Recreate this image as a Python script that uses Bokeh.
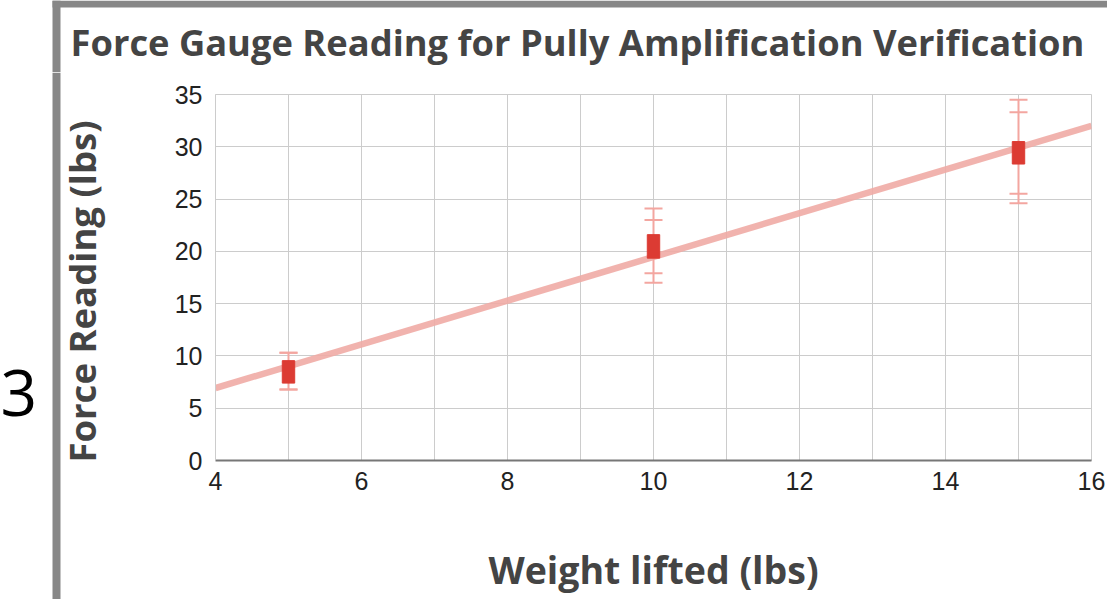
import numpy as np
from bokeh.plotting import figure
from bokeh.layouts import column, row
from bokeh.models import FixedTicker, Range1d
from bokeh.core.properties import value
from bokeh.embed import file_html
from bokeh.resources import INLINE

# ---- data ----
weight = [5, 10, 15]
force = [8.5, 20.5, 29.4]
box_low = [7.4, 19.35, 28.35]
box_high = [9.55, 21.6, 30.5]
inner_low = [6.8, 17.9, 25.5]
inner_high = [10.3, 23.0, 33.3]
outer_low = [6.8, 17.0, 24.6]
outer_high = [10.3, 24.1, 34.5]
x_ticks = [4, 6, 8, 10, 12, 14, 16]
x_minor = [5, 7, 9, 11, 13, 15]
y_ticks = [0, 5, 10, 15, 20, 25, 30, 35]
title_text = "Force Gauge Reading for Pully Amplification Verification"
x_label = "Weight lifted (lbs)"
y_label = "Force Reading (lbs)"
side_text = "3"

FRAME_GRAY = "#878787"
TEXT_GRAY = "#444444"


def blank(width, height):
    f = figure(width=width, height=height, output_backend="svg", toolbar_location=None,
               x_range=Range1d(0, width), y_range=Range1d(0, height),
               min_border=0, min_border_left=0, min_border_right=0,
               min_border_top=0, min_border_bottom=0, frame_align=False)
    f.title.visible = False
    f.axis.visible = False
    f.grid.visible = False
    f.outline_line_color = None
    f.background_fill_color = "white"
    f.border_fill_color = "white"
    return f


# ---- top strip: frame border and title ----
TOP_H = 72
top = blank(1107, TOP_H)
top.quad(left=[52], right=[1107], bottom=[TOP_H - 7], top=[TOP_H], fill_color=FRAME_GRAY, line_color=None)
top.quad(left=[52], right=[60], bottom=[0], top=[TOP_H], fill_color=FRAME_GRAY, line_color=None)
top.text(x=[70], y=[TOP_H - 41], text=[title_text], text_font=value("Open Sans"),
         text_font_style="bold", text_font_size="36.3px", text_color=TEXT_GRAY,
         text_align="left", text_baseline="alphabetic")

# ---- left strip: frame border, side number, y axis title ----
LEFT_W = 112
BODY_H = 599 - TOP_H
left = blank(LEFT_W, BODY_H)
left.quad(left=[52], right=[60], bottom=[0], top=[BODY_H], fill_color=FRAME_GRAY, line_color=None)
left.text(x=[0], y=[599 - 392], text=[side_text], text_font=value("Open Sans"),
          text_font_size="64px", text_color="black", text_align="left", text_baseline="alphabetic")
left.text(x=[81], y=[599 - 291], text=[y_label], angle=np.pi / 2, text_font=value("Open Sans"),
          text_font_style="bold", text_font_size="36.5px", text_color=TEXT_GRAY,
          text_align="center", text_baseline="alphabetic")

# ---- main chart ----
p = figure(width=1107 - LEFT_W, height=BODY_H, x_range=(4, 16), y_range=(0, 35),
           output_backend="svg", toolbar_location=None, frame_align=False,
           min_border_left=215 - LEFT_W, min_border_right=16,
           min_border_top=94 - TOP_H, min_border_bottom=599 - 460)
p.title.visible = False
p.background_fill_color = "white"
p.border_fill_color = "white"
p.outline_line_color = "#cccccc"

# trend line (least squares through the points)
coef = np.polyfit(weight, force, 1)
tx = [x_ticks[0], x_ticks[-1]]
p.line(tx, list(np.polyval(coef, tx)), line_color="#f0aba5", line_width=6.5, line_alpha=0.9)

# error bars
bar_col = "#f3a6a0"
p.segment(x0=weight, y0=outer_low, x1=weight, y1=outer_high, line_color=bar_col, line_width=2)
for ys in (outer_low, outer_high, inner_low, inner_high):
    p.dash(x=weight, y=ys, size=18, line_color=bar_col, line_width=2)
# boxes
p.vbar(x=weight, bottom=box_low, top=box_high, width=0.17, fill_color="#dc3b33", line_color="#dc3b33")

# axes
p.xaxis.ticker = FixedTicker(ticks=x_ticks, minor_ticks=x_minor)
p.yaxis.ticker = FixedTicker(ticks=y_ticks)
for ax in (p.xaxis[0], p.yaxis[0]):
    ax.major_tick_line_color = None
    ax.minor_tick_line_color = None
    ax.major_label_text_font = "Liberation Sans"
    ax.major_label_text_font_size = "25px"
    ax.major_label_text_color = "#222222"
    ax.axis_label_text_font = "Open Sans"
    ax.axis_label_text_font_style = "bold"
    ax.axis_label_text_font_size = "37.5px"
    ax.axis_label_text_color = TEXT_GRAY
p.xaxis.axis_line_color = "#777777"
p.xaxis.axis_line_width = 2
p.yaxis.axis_line_color = "#cccccc"
p.xaxis.major_label_standoff = 5
p.yaxis.major_label_standoff = 7
p.xaxis.axis_label = x_label
p.xaxis.axis_label_standoff = 51

p.xgrid.grid_line_color = "#cccccc"
p.xgrid.minor_grid_line_color = "#cccccc"
p.ygrid.grid_line_color = "#cccccc"

layout = column(top, row(left, p, spacing=0), spacing=0)

open("out.html", "w").write(file_html(layout, INLINE))
